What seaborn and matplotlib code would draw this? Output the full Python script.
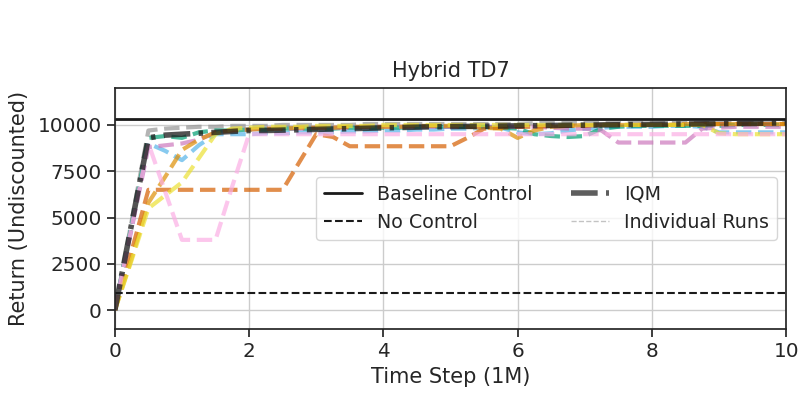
import numpy as np
import pandas as pd
import matplotlib
matplotlib.use("Agg")
import matplotlib.pyplot as plt
from matplotlib.lines import Line2D
import seaborn as sns

# evaluation steps (in millions)
steps = np.arange(0, 10.01, 0.25)

baseline_control = 10300
no_control = 950

# individual runs, one value per 0.25M step
run_light_blue = [0, 4500, 9000, 8600, 8100, 8900, 9500, 9500, 9500, 9550,
                  9550, 9600, 9600, 9600, 9650, 9650, 9700, 9700, 9750, 9750,
                  9800, 9800, 9850, 9850, 9600, 9500, 9550, 9700, 9800, 9850,
                  9900, 9900, 9900, 9950, 9950, 9900, 9600, 9600, 9600, 9600,
                  9600]
run_dark_orange = [0, 3200, 6500, 6500, 6500, 6500, 6500, 6500, 6500, 6500,
                   6500, 8000, 9500, 9350, 8850, 8850, 8850, 8850, 8850, 8850,
                   8850, 9300, 9800, 9850, 9900, 9900, 9950, 9950, 9950, 10000,
                   10000, 10000, 10000, 10000, 10000, 10050, 10050, 10050, 10050, 10050,
                   10050]
run_orange = [0, 2800, 5800, 7200, 8650, 9200, 9600, 9700, 9750, 9800,
              9800, 9850, 9850, 9850, 9900, 9900, 9900, 9900, 9950, 9950,
              9950, 9900, 9850, 9800, 9300, 9700, 9900, 9950, 10000, 10000,
              10000, 10000, 10000, 10000, 10050, 10050, 10050, 10050, 10050, 10050,
              10050]
run_yellow = [0, 2700, 5500, 6200, 6900, 8200, 9500, 9800, 9850, 9900,
              9900, 9900, 9950, 9950, 9950, 9950, 10000, 10000, 10000, 10000,
              10000, 10000, 10000, 10000, 10000, 10000, 10000, 10000, 10000, 10000,
              10000, 10000, 10000, 10000, 10000, 10000, 9550, 9500, 9500, 9500,
              9500]
run_green = [0, 4600, 9300, 9400, 9300, 9600, 9700, 9700, 9750, 9750,
             9800, 9800, 9800, 9800, 9850, 9850, 9850, 9850, 9900, 9900,
             9900, 9900, 9900, 9850, 9800, 9500, 9400, 9350, 9400, 9800,
             9900, 9950, 9950, 9950, 9950, 9950, 9950, 10000, 10000, 10000,
             10000]
run_light_pink = [0, 4500, 9000, 6400, 3800, 3800, 3800, 6700, 9500, 9500,
                  9500, 9500, 9500, 9500, 9500, 9500, 9500, 9500, 9500, 9500,
                  9500, 9500, 9500, 9500, 9500, 9500, 9500, 9500, 9500, 9500,
                  9500, 9500, 9500, 9500, 9500, 9500, 9500, 9500, 9500, 9500,
                  9500]
run_purple = [0, 4400, 8800, 8900, 9000, 9200, 9600, 9700, 9750, 9800,
              9800, 9800, 9850, 9850, 9850, 9900, 9900, 9900, 9900, 9900,
              9900, 9900, 9900, 9900, 9900, 9900, 9850, 9800, 9800, 9700,
              9050, 9050, 9050, 9050, 9050, 9800, 9850, 9900, 9900, 9900,
              9900]
run_gray = [0, 4800, 9700, 9800, 9850, 9900, 9900, 9950, 9950, 9950,
            10000, 10000, 10000, 10000, 10000, 10050, 10050, 10050, 10050, 10050,
            10050, 10050, 10050, 10050, 10050, 10100, 10100, 10100, 10100, 10100,
            10100, 10100, 10100, 10100, 10100, 10100, 10100, 10100, 10100, 10100,
            10100]

iqm = [0, 4650, 9300, 9450, 9500, 9550, 9600, 9650, 9700, 9700,
       9720, 9740, 9760, 9780, 9800, 9820, 9840, 9860, 9880, 9900,
       9910, 9920, 9930, 9940, 9950, 9960, 9970, 9980, 9990, 10000,
       10010, 10020, 10030, 10040, 10050, 10060, 10070, 10080, 10090, 10100,
       10110]

runs = {
    "gray": run_gray,
    "light_blue": run_light_blue,
    "green": run_green,
    "purple": run_purple,
    "dark_orange": run_dark_orange,
    "orange": run_orange,
    "yellow": run_yellow,
    "light_pink": run_light_pink,
}
run_colors = {
    "gray": "#949494",
    "light_blue": "#56b4e9",
    "green": "#029e73",
    "purple": "#cc78bc",
    "dark_orange": "#d55e00",
    "orange": "#de8f05",
    "yellow": "#ece133",
    "light_pink": "#fbafe4",
}

df = pd.concat([pd.DataFrame({"step": steps, "ret": v, "run": k}) for k, v in runs.items()])

sns.set_theme(style="ticks", rc={"axes.grid": True,
                                 "xtick.labelsize": 14.4, "ytick.labelsize": 14.4,
                                 "axes.labelsize": 15, "axes.titlesize": 15,
                                 "legend.fontsize": 13.7})

fig, ax = plt.subplots(figsize=(8.03, 4.03), dpi=100)
fig.subplots_adjust(left=0.143, right=0.979, top=0.782, bottom=0.184)

iqm_dash = (4.8, 1.5, 0.8, 1.5)

sns.lineplot(data=df, x="step", y="ret", hue="run", palette=run_colors,
             linestyle="--", linewidth=3, alpha=0.7, legend=False, ax=ax)
sns.lineplot(x=steps, y=iqm, color="k", dashes=False, linewidth=4, alpha=0.75, ax=ax)
ax.lines[-1].set_dashes(iqm_dash)

ax.axhline(baseline_control, color="k", linewidth=2)
ax.axhline(no_control, color="k", linestyle="--", linewidth=1.5)

ax.set_xlim(0, 10)
ax.set_ylim(-1000, 12000)
ax.set_yticks([0, 2500, 5000, 7500, 10000])
ax.set_xticks([0, 2, 4, 6, 8, 10])
ax.set_title("Hybrid TD7", pad=8)
ax.set_xlabel("Time Step (1M)")
ax.set_ylabel("Return (Undiscounted)", labelpad=6)

handles = [
    Line2D([], [], color="k", linewidth=2),
    Line2D([], [], color="k", linestyle="--", linewidth=1.5),
    Line2D([], [], color="k", dashes=iqm_dash, linewidth=4, alpha=0.7),
    Line2D([], [], color="#aaaaaa", linestyle="--", linewidth=1, alpha=0.7),
]
labels = ["Baseline Control", "No Control", "IQM", "Individual Runs"]
ax.legend(handles, labels, ncol=2, loc="center right")

plt.savefig("out.png", dpi=100)
